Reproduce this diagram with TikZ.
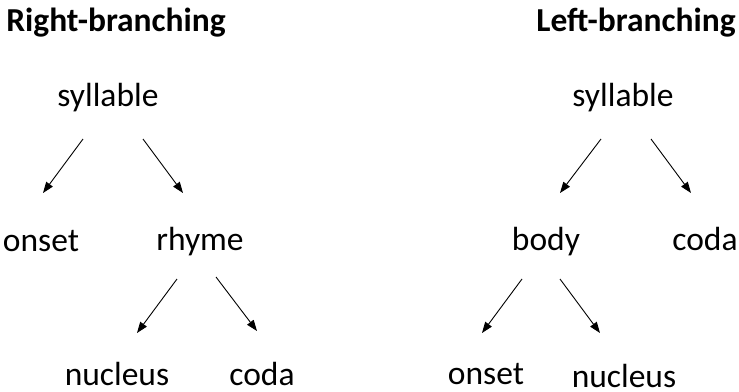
\documentclass[tikz,border=0pt]{standalone}
\usepackage{fontspec}
\setmainfont{Carlito}
\usetikzlibrary{arrows.meta}
\begin{document}
\begin{tikzpicture}[x=1pt,y=-1pt,
  lbl/.style={anchor=base,inner sep=0pt,text depth=0pt,font=\fontsize{33.5}{40}\selectfont},
  ttl/.style={anchor=base,inner sep=0pt,text depth=0pt,font=\fontsize{33.5}{40}\selectfont\bfseries},
  arr/.style={-{Triangle[length=11pt,width=8pt]},line width=0.9pt}]
\useasboundingbox (0,0) rectangle (739,391);
% titles
\node[ttl] (tR) at (116,31) {Right-branching};
\node[ttl] (tL) at (636,31) {Left-branching};
% left tree
\node[lbl] (sylL) at (108,106) {syllable};
\node[lbl] (onsetL) at (41,251) {onset};
\node[lbl] (rhyme) at (200,250) {rhyme};
\node[lbl] (nucL) at (117,385) {nucleus};
\node[lbl] (codaL) at (262,385) {coda};
% right tree
\node[lbl] (sylR) at (623,106) {syllable};
\node[lbl] (body) at (546,250) {body};
\node[lbl] (codaR) at (705,250) {coda};
\node[lbl] (onsetR) at (486,384) {onset};
\node[lbl] (nucR) at (624,387) {nucleus};
% arrows left
\draw[arr] ([shift={(-25,33)}]sylL.base) -- ([shift={(2,-58)}]onsetL.base);
\draw[arr] ([shift={(35,33)}]sylL.base) -- ([shift={(-17,-57)}]rhyme.base);
\draw[arr] ([shift={(-23,29)}]rhyme.base) -- ([shift={(20,-52)}]nucL.base);
\draw[arr] ([shift={(16,27)}]rhyme.base) -- ([shift={(-5,-54)}]codaL.base);
% arrows right
\draw[arr] ([shift={(-22,33)}]sylR.base) -- ([shift={(14,-57)}]body.base);
\draw[arr] ([shift={(28,33)}]sylR.base) -- ([shift={(-14,-57)}]codaR.base);
\draw[arr] ([shift={(-24,29)}]body.base) -- ([shift={(-4,-51)}]onsetR.base);
\draw[arr] ([shift={(14,29)}]body.base) -- ([shift={(-24,-54)}]nucR.base);
\end{tikzpicture}
\end{document}
